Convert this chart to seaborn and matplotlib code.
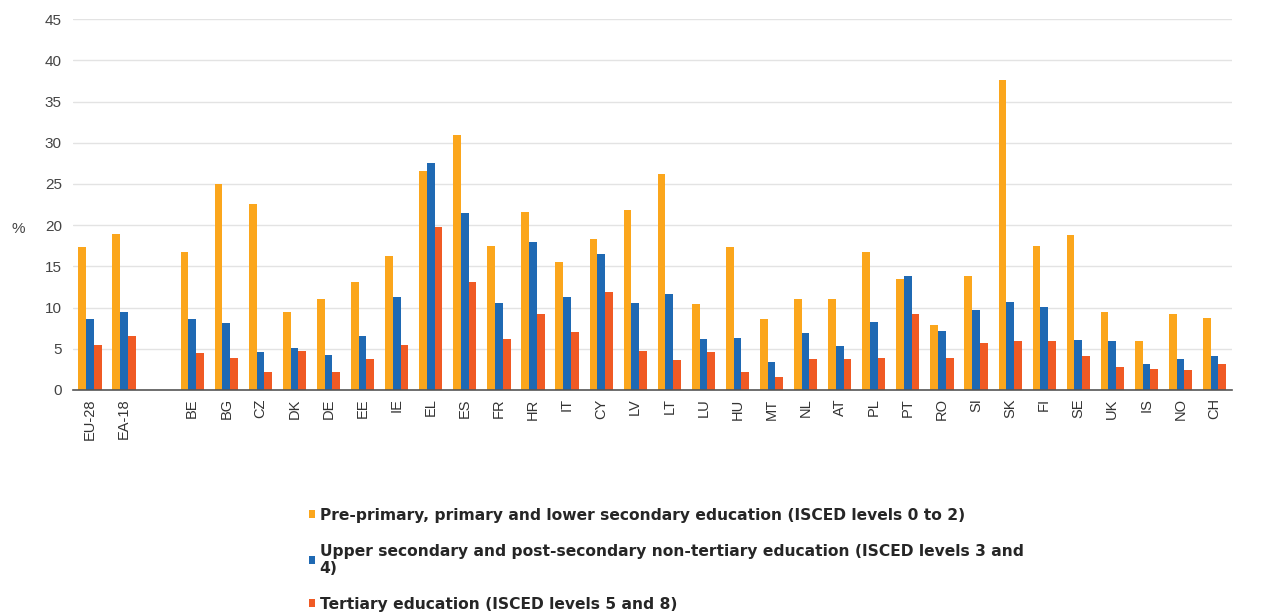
import numpy as np
import pandas as pd
import seaborn as sns
import matplotlib.pyplot as plt
from matplotlib.ticker import MultipleLocator, FixedLocator

# Countries (blank slot separates aggregates from countries)
countries = ['EU-28', 'EA-18', ' ', 'BE', 'BG', 'CZ', 'DK', 'DE', 'EE', 'IE', 'EL', 'ES',
             'FR', 'HR', 'IT', 'CY', 'LV', 'LT', 'LU', 'HU', 'MT', 'NL', 'AT', 'PL',
             'PT', 'RO', 'SI', 'SK', 'FI', 'SE', 'UK', 'IS', 'NO', 'CH']

low_edu = [17.3, 18.9, np.nan, 16.7, 25.0, 22.6, 9.5, 11.1, 13.1, 16.2, 26.6, 30.9,
           17.5, 21.6, 15.5, 18.3, 21.8, 26.2, 10.4, 17.3, 8.6, 11.1, 11.1, 16.7,
           13.5, 7.9, 13.8, 37.6, 17.5, 18.8, 9.5, 6.0, 9.2, 8.7]
mid_edu = [8.6, 9.5, np.nan, 8.6, 8.1, 4.6, 5.1, 4.2, 6.6, 11.3, 27.5, 21.5,
           10.6, 18.0, 11.3, 16.5, 10.6, 11.6, 6.2, 6.3, 3.4, 6.9, 5.3, 8.3,
           13.8, 7.2, 9.7, 10.7, 10.1, 6.1, 5.9, 3.2, 3.8, 4.1]
high_edu = [5.5, 6.6, np.nan, 4.5, 3.9, 2.2, 4.7, 2.2, 3.8, 5.4, 19.8, 13.1,
            6.2, 9.2, 7.0, 11.9, 4.7, 3.6, 4.6, 2.2, 1.6, 3.8, 3.8, 3.9,
            9.2, 3.9, 5.7, 5.9, 5.9, 4.1, 2.8, 2.6, 2.4, 3.1]

series_names = [
    'Pre-primary, primary and lower secondary education (ISCED levels 0 to 2)',
    'Upper secondary and post-secondary non-tertiary education (ISCED levels 3 and\n4)',
    'Tertiary education (ISCED levels 5 and 8)',
]
colors = ['#FBA61C', '#1F69B3', '#F05A24']

df = pd.DataFrame({'country': countries, series_names[0]: low_edu,
                   series_names[1]: mid_edu, series_names[2]: high_edu})
df = df.melt(id_vars='country', var_name='level', value_name='value')

sns.set_style('white')
plt.rcParams['font.family'] = ['Liberation Sans', 'DejaVu Sans']

fig = plt.figure(figsize=(12.71, 6.13), dpi=100)
ax = fig.add_axes([0.0574, 0.3638, 0.9116, 0.605])

sns.barplot(data=df, x='country', y='value', hue='level', order=countries,
            hue_order=series_names, palette=colors, width=0.68, gap=0,
            saturation=1, linewidth=0, edgecolor='none', ax=ax)

ax.set_ylim(0, 45)
ax.set_xlim(-0.5, len(countries) - 0.5)
ax.yaxis.set_major_locator(MultipleLocator(5))
ax.grid(axis='y', color='#e3e3e3', linewidth=1)
ax.set_axisbelow(True)
for s in ['top', 'right', 'left']:
    ax.spines[s].set_visible(False)
ax.spines['bottom'].set_color('#555555')
ax.spines['bottom'].set_linewidth(1.2)

ax.tick_params(axis='x', which='major', length=0, labelrotation=90, labelsize=10.5,
               labelcolor='#333333', pad=6)
ax.xaxis.set_minor_locator(FixedLocator(np.arange(-0.5, len(countries), 1)))
ax.tick_params(axis='x', which='minor', length=4, color='#555555', width=1)
ax.tick_params(axis='y', length=0, labelsize=11, labelcolor='#444444', pad=8)

ax.set_xlabel('')
ax.set_ylabel('%', rotation=0, fontsize=11, color='#444444', labelpad=10)
ax.yaxis.set_label_coords(-0.047, 0.415)

handles, labels = ax.get_legend_handles_labels()
ax.get_legend().remove()
fig.legend(handles, labels, loc='upper left', bbox_to_anchor=(0.243, 0.172),
           frameon=False,
           prop={'family': 'DejaVu Sans', 'weight': 'bold', 'size': 11.2},
           handlelength=0.4, handleheight=0.4,
           handletextpad=0.3, labelspacing=1.35, borderpad=0, borderaxespad=0)

fig.savefig('out.png', dpi=100)
